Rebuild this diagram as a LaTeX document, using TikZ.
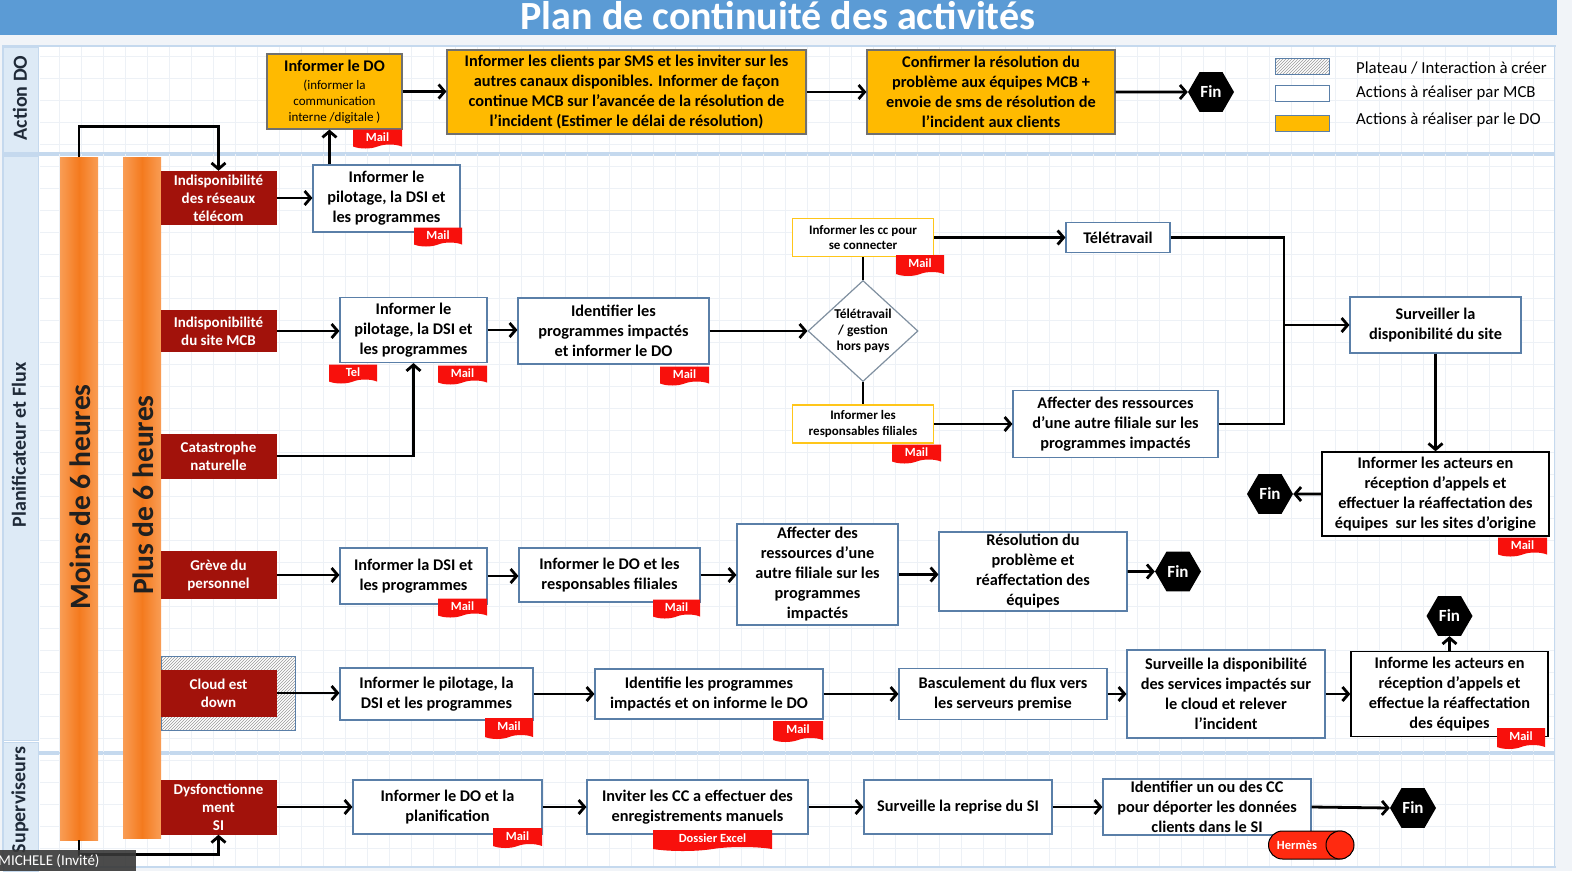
\documentclass[tikz,border=0pt]{standalone}
\usepackage{fontspec}
\setmainfont{Carlito}
\usetikzlibrary{arrows.meta,shapes.geometric,shapes.symbols,shapes.misc,patterns,calc}
\definecolor{titleblue}{HTML}{5B9BD5}
\definecolor{laneblue}{HTML}{C5D9EE}
\definecolor{hdrblue}{HTML}{DDEAF6}
\definecolor{hdrtextc}{HTML}{1F2A38}
\definecolor{bgc}{HTML}{F1F4F8}
\definecolor{gridc}{HTML}{EDF1F6}
\definecolor{boxblue}{HTML}{5A7FA8}
\definecolor{doorange}{HTML}{FFBA00}
\definecolor{dogray}{HTML}{707070}
\definecolor{yelbd}{HTML}{FFC61A}
\definecolor{causered}{HTML}{A2120B}
\definecolor{tagred}{HTML}{F8100C}
\definecolor{hred}{HTML}{FF2A10}
\definecolor{diagray}{HTML}{8090A0}
\definecolor{barlight}{HTML}{F99D55}
\definecolor{bardark}{HTML}{F47A1E}
\definecolor{bartextc}{HTML}{202020}
\begin{document}
\begin{tikzpicture}[x=1pt,y=-1pt,
 lane/.style={draw=laneblue, line width=2pt, fill=white},
 hdr/.style={draw=laneblue, line width=1pt, fill=hdrblue},
 hdrtext/.style={rotate=90, font=\bfseries\fontsize{20}{20}\selectfont, text=hdrtextc},
 box/.style={draw=boxblue, line width=1.1pt, fill=white, align=center, inner sep=1pt, font=\bfseries\fontsize{16.3}{20}\selectfont},
 dobox/.style={box, fill=doorange, draw=dogray},
 ybox/.style={box, draw=yelbd, line width=1.5pt, font=\bfseries\fontsize{13}{15.5}\selectfont},
 kbox/.style={box, draw=black, line width=1.4pt},
 cause/.style={fill=causered, text=white, align=center, inner sep=1pt, minimum width=116, font=\bfseries\fontsize{15}{18}\selectfont},
 tagn/.style={tape, tape bend top=none, tape bend bottom=in and out, tape bend height=4pt, fill=tagred, text=white, inner sep=1pt, minimum height=19, font=\bfseries\fontsize{12.5}{13}\selectfont},
 fin/.style={regular polygon, regular polygon sides=6, minimum size=46, inner sep=0pt, fill=black, text=white, font=\bfseries\fontsize{17}{17}\selectfont},
 arr/.style={line width=2.8pt, -{Straight Barb[length=6pt,width=14pt]}},
 ln/.style={line width=2.8pt},
 bar/.style={left color=barlight, right color=barlight, middle color=bardark, minimum width=38, inner sep=0},
 bartext/.style={rotate=90, font=\bfseries\fontsize{29.5}{30}\selectfont, text=bartextc},
 legtext/.style={anchor=west, font=\fontsize{16.8}{16}\selectfont, inner sep=0},
 hatch/.style={preaction={fill=white}, pattern=north east lines, pattern color=gray!80, draw=boxblue, line width=0.8pt}
]
\useasboundingbox (0,0) rectangle (1572,871);
\fill[bgc] (0,0) rectangle (1572,871);
% title
\fill[titleblue] (0,0) rectangle (1557,35);
\node[text=white, font=\bfseries\fontsize{40}{40}\selectfont] (title) at (778,15.5) {Plan de continuité des activités};
% lanes
\draw[lane] (3,46) rectangle (1555,153);
\draw[lane] (3,155) rectangle (1555,752);
\draw[lane] (3,754) rectangle (1555,867);
\foreach \gx in {59,81,...,1555} \draw[gridc, line width=0.6pt] (\gx,47) -- (\gx,866);
\foreach \gy in {56,78,...,866} \draw[gridc, line width=0.6pt] (40,\gy) -- (1554,\gy);
\draw[laneblue, line width=2pt] (38,153) -- (1555,153) (38,753) -- (1555,753);
\draw[hdr] (3,47) rectangle (38,152);
\draw[hdr] (3,156) rectangle (38,740);
\draw[hdr] (3,742) rectangle (38,871);
\node[hdrtext] (h1) at (20,98) {Action DO};
\node[hdrtext] (h2) at (19,445) {Planificateur et Flux};
\node[hdrtext] (h3) at (20,800) {Superviseurs};
% bars
\node[bar, minimum height=683] (bar1) at (79,498.5) {};
\node[bar, minimum height=681] (bar2) at (142,497.5) {};
\node[bartext] (bar1t) at (80,497) {Moins de 6 heures};
\node[bartext] (bar2t) at (143,495) {Plus de 6 heures};
% causes
\node[cause, minimum height=54] (cause1) at (218.5,198) {Indisponibilité\\des réseaux\\télécom};
\node[cause, minimum height=42] (cause2) at (218.5,331) {Indisponibilité\\du site MCB};
\node[cause, minimum height=45] (cause3) at (218.5,456) {Catastrophe\\naturelle};
\node[cause, minimum height=48] (cause4) at (218.5,575) {Grève du\\personnel};
\draw[hatch] (161,656) rectangle (295,730);
\node[cause, minimum height=47] (cause5) at (218.5,693) {Cloud est\\down};
\node[cause, minimum height=55] (cause6) at (218.5,807) {Dysfonctionne\\ment\\SI};
% Action DO row
\node[dobox, minimum width=135, minimum height=75] (do1) at (334.5,91.5) {Informer le DO\\[-2pt]{\mdseries\fontsize{13}{16}\selectfont (informer la}\\[-4pt]{\mdseries\fontsize{13}{16}\selectfont communication}\\[-4pt]{\mdseries\fontsize{13}{16}\selectfont interne /digitale )}};
\node[dobox, minimum width=359, minimum height=84] (do2) at (626.5,92) {Informer les clients par SMS et les inviter sur les\\autres canaux disponibles. Informer de façon\\continue MCB sur l’avancée de la résolution de\\l’incident (Estimer le délai de résolution)};
\node[dobox, minimum width=248, minimum height=84] (do3) at (991,92) {Confirmer la résolution du\\problème aux équipes MCB +\\envoie de sms de résolution de\\l’incident aux clients};
\node[fin] (fin1) at (1211,92) {Fin};
\node[tagn, minimum width=49] (do1m) at (377.5,137) {Mail};
% legend
\node[hatch, minimum width=54, minimum height=16, inner sep=0] (lg1) at (1302,66) {};
\node[draw=boxblue, line width=0.8pt, fill=white, minimum width=54, minimum height=16, inner sep=0] (lg2) at (1302,93) {};
\node[draw=boxblue, line width=0.8pt, fill=doorange, minimum width=54, minimum height=16, inner sep=0] (lg3) at (1302,123) {};
\node[legtext] (lg1t) at (1356,68) {Plateau / Interaction à créer};
\node[legtext] (lg2t) at (1356,93) {Actions à réaliser par MCB};
\node[legtext] (lg3t) at (1356,120) {Actions à réaliser par le DO};
% row 1
\node[box, minimum width=147, minimum height=67] (p1) at (386.5,198.5) {Informer le\\pilotage, la DSI et\\les programmes};
\node[tagn, minimum width=48] (p1m) at (438,235) {Mail};
% row 2
\node[box, minimum width=147, minimum height=65] (p2) at (413.5,330) {Informer le\\pilotage, la DSI et\\les programmes};
\node[tagn, minimum width=48] (p2t) at (353,372) {Tel};
\node[tagn, minimum width=49] (p2m) at (462.5,373) {Mail};
\node[box, minimum width=191, minimum height=66] (id1) at (613.5,331) {Identifier les\\programmes impactés\\et informer le DO};
\node[tagn, minimum width=49] (id1m) at (684.5,374) {Mail};
\node[diamond, draw=diagray, line width=1.2pt, fill=white, minimum width=110, minimum height=101, inner sep=0, align=center, font=\bfseries\fontsize{13.5}{16}\selectfont] (dia) at (863,331) {Télétravail\\/ gestion\\hors pays};
\node[ybox, minimum width=141, minimum height=38] (cc) at (863,237.5) {Informer les cc pour\\se connecter};
\node[tagn, minimum width=48, minimum height=21] (ccm) at (920,263.5) {Mail};
\node[ybox, minimum width=141, minimum height=38] (resp) at (863,424) {Informer les\\responsables filiales};
\node[tagn, minimum width=49] (respm) at (916.5,452) {Mail};
\node[box, minimum width=104, minimum height=30] (tele) at (1118,237.5) {Télétravail};
\node[box, minimum width=205, minimum height=67] (aff1) at (1115.5,424) {Affecter des ressources\\d’une autre filiale sur les\\programmes impactés};
\node[box, minimum width=171, minimum height=56] (surv) at (1435.5,325) {Surveiller la\\disponibilité du site};
\node[kbox, minimum width=227, minimum height=84] (inf3) at (1435.5,494) {Informer les acteurs en\\réception d’appels et\\effectuer la réaffectation des\\équipes\ \ sur les sites d’origine};
\node[tagn, minimum width=49] (inf3m) at (1522.5,545) {Mail};
\node[fin] (fin2) at (1270,494) {Fin};
\coordinate (jx) at (1284,325);
% row 4
\node[box, minimum width=147, minimum height=56] (g1) at (413.5,576) {Informer la DSI et\\les programmes};
\node[tagn, minimum width=49] (g1m) at (462.5,606) {Mail};
\node[box, minimum width=181, minimum height=54] (g2) at (609.5,575) {Informer le DO et les\\responsables filiales};
\node[tagn, minimum width=47] (g2m) at (676.5,607) {Mail};
\node[box, minimum width=161, minimum height=101] (g3) at (817.5,574.5) {Affecter des\\ressources d’une\\autre filiale sur les\\programmes\\impactés};
\node[box, minimum width=188, minimum height=79] (g4) at (1033,571.5) {Résolution du\\problème et\\réaffectation des\\équipes};
\node[fin] (fin3) at (1178,571.5) {Fin};
% row 5
\node[box, minimum width=193, minimum height=52] (c1) at (436.5,694) {Informer le pilotage, la\\DSI et les programmes};
\node[tagn, minimum width=48, minimum height=21] (c1m) at (509,726.5) {Mail};
\node[box, minimum width=228, minimum height=50] (c2) at (709,694) {Identifie les programmes\\impactés et on informe le DO};
\node[tagn, minimum width=50, minimum height=21] (c2m) at (798,729.5) {Mail};
\node[box, minimum width=208, minimum height=51] (c3) at (1003,694) {Basculement du flux vers\\les serveurs premise};
\node[box, minimum width=198, minimum height=88] (c4) at (1226,694) {Surveille la disponibilité\\des services impactés sur\\le cloud et relever\\l’incident};
\node[kbox, minimum width=197, minimum height=85] (c5) at (1449.5,694) {Informe les acteurs en\\réception d’appels et\\effectue la réaffectation\\des équipes};
\node[tagn, minimum width=48, minimum height=21] (c5m) at (1521,736.5) {Mail};
\node[fin] (fin4) at (1449.5,616) {Fin};
% row 6
\node[box, minimum width=189, minimum height=54] (s1) at (447.5,807) {Informer le DO et la\\planification};
\node[tagn, minimum width=49, minimum height=20] (s1m) at (517.5,836) {Mail};
\node[box, minimum width=221, minimum height=54] (s2) at (697.5,807) {Inviter les CC a effectuer des\\enregistrements manuels};
\node[tagn, minimum width=119, minimum height=21] (s2m) at (712.5,838.5) {Dossier Excel};
\node[box, minimum width=188, minimum height=54] (s3) at (958,807) {Surveille la reprise du SI};
\node[box, minimum width=208, minimum height=56] (s4) at (1207,807) {Identifier un ou des CC\\pour déporter les données\\clients dans le SI};
\node[rounded rectangle, fill=hred, draw=black, line width=1pt, minimum width=85, minimum height=28, inner sep=0] (herm) at (1311,845) {};
\draw[fill=hred, line width=1pt] ($(herm.east)+(-14,0)$) circle[radius=14];
\node[text=white, font=\bfseries\fontsize{12.5}{12}\selectfont, inner sep=0] (hermt) at (1297,845) {Hermès};
\node[fin] (fin5) at (1413,808) {Fin};
% connectors
\draw[arr] (bar1.north) |- ($(cause1.north)+(0,-44)$) -- (cause1.north);
\draw[arr] (bar1.south) |- ($(cause6.south)+(0,20)$) -- (cause6.south);
\draw[arr] (cause1.east) -- (cause1.east -| p1.west);
\draw[arr] ([xshift=17pt]p1.north west) -- ([xshift=17pt]p1.north west |- do1.south);
\draw[arr] (do1.east) -- (do1.east -| do2.west);
\draw[arr] (do2.east) -- (do2.east -| do3.west);
\draw[arr] (do3.east) -- (fin1.west);
\draw[arr] (cause2.east) -- (cause2.east -| p2.west);
\draw[arr] (cause3.east) -| (p2.south);
\draw[arr] (p2.east) -- (p2.east -| id1.west);
\draw[arr] (id1.east) -- (dia.west);
\draw[ln] (dia.north) -- (cc.south);
\draw[ln] (dia.south) -- (resp.north);
\draw[arr] (cc.east) -- (tele.west);
\draw[arr] (resp.east) -- (aff1.west);
\draw[ln] (tele.east) -| (jx);
\draw[ln] (aff1.east) -| (jx);
\draw[arr] (jx) -- (surv.west);
\draw[arr] (surv.south) -- (inf3.north);
\draw[arr] (inf3.west) -- (fin2.east);
\draw[arr] (cause4.east) -- (cause4.east -| g1.west);
\draw[arr] (g1.east) -- (g1.east -| g2.west);
\draw[arr] (g2.east) -- (g2.east -| g3.west);
\draw[arr] (g3.east) -- (g3.east -| g4.west);
\draw[arr] (g4.east) -- (fin3.west);
\draw[arr] (cause5.east) -- (cause5.east -| c1.west);
\draw[arr] (c1.east) -- (c1.east -| c2.west);
\draw[arr] (c2.east) -- (c2.east -| c3.west);
\draw[arr] (c3.east) -- (c3.east -| c4.west);
\draw[arr] (c4.east) -- (c4.east -| c5.west);
\draw[arr] (c5.north) -- (fin4.south);
\draw[arr] (cause6.east) -- (cause6.east -| s1.west);
\draw[arr] (s1.east) -- (s1.east -| s2.west);
\draw[arr] (s2.east) -- (s2.east -| s3.west);
\draw[arr] (s3.east) -- (s3.east -| s4.west);
\draw[arr] (s4.east) -- (fin5.west);
% overlay
\node[fill=black!78, fill opacity=0.9, minimum width=136, minimum height=21, inner sep=0, anchor=south west] (cam) at (0,871) {};
\node[anchor=west, text=white, font=\fontsize{15}{15}\selectfont, inner sep=0] (camt) at (-2,861) {MICHELE (Invité)};
\end{tikzpicture}
\end{document}
